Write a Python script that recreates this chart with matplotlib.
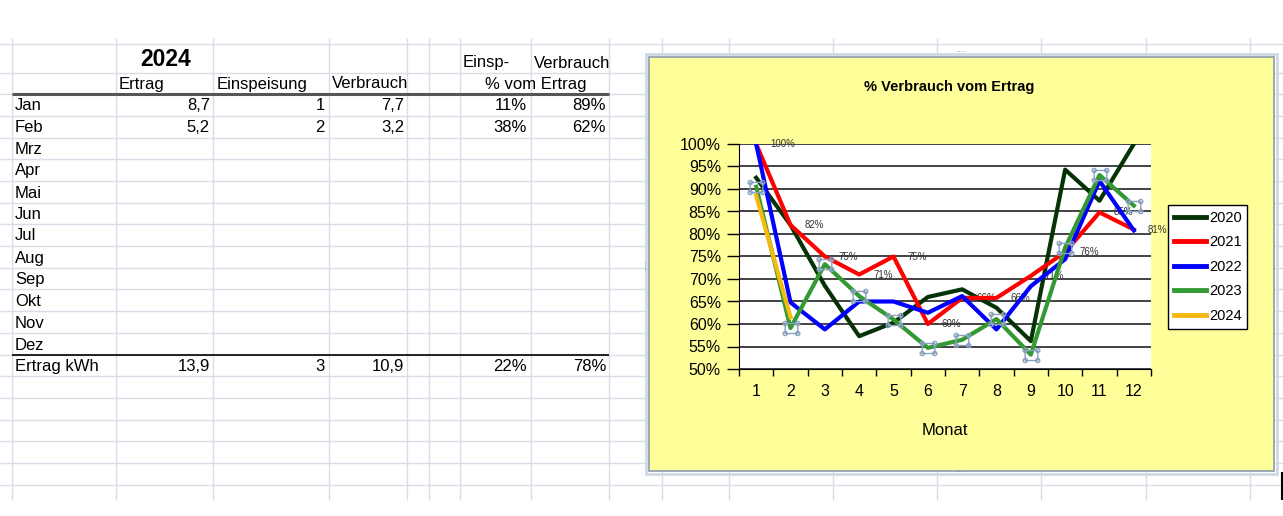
import numpy as np
import matplotlib.pyplot as plt
from matplotlib.path import Path
from matplotlib.patches import Rectangle
from matplotlib.ticker import FuncFormatter

plt.rcParams['font.family'] = ['Liberation Sans', 'DejaVu Sans']

# ---- Tabelle 2024 ----
jahr = '2024'
tab_monate = ['Jan', 'Feb', 'Mrz', 'Apr', 'Mai', 'Jun', 'Jul', 'Aug', 'Sep', 'Okt', 'Nov', 'Dez']
ertrag = [8.7, 5.2]
einspeisung = [1, 2]
verbrauch = [7.7, 3.2]

# ---- Diagramm: % Verbrauch vom Ertrag ----
monate = np.arange(1, 13)
v2020 = [0.925, 0.82, 0.685, 0.573, 0.603, 0.66, 0.677, 0.636, 0.562, 0.943, 0.874, 1.0]
v2021 = [1.0, 0.82, 0.75, 0.71, 0.75, 0.60, 0.658, 0.658, 0.707, 0.76, 0.848, 0.81]
v2022 = [1.0, 0.648, 0.588, 0.65, 0.65, 0.625, 0.662, 0.588, 0.684, 0.744, 0.918, 0.808]
v2023 = [0.905, 0.591, 0.733, 0.662, 0.61, 0.547, 0.565, 0.611, 0.532, 0.77, 0.931, 0.863]
v2024 = [v / e for v, e in zip(verbrauch, ertrag)]


def zahl(v):
    return ('%g' % round(v, 2)).replace('.', ',')


fig = plt.figure(figsize=(12.83, 5.16), dpi=100)
sheet = fig.add_axes([0, 0, 1, 1])
sheet.set_xlim(0, 1283)
sheet.set_ylim(516, 0)
sheet.axis('off')

# Excel-Gitternetz
gitter = '#d8dee8'
spalten = [12, 116, 213, 329, 407, 429, 460, 531, 609, 662, 729, 833, 937, 1041, 1146, 1250]
zeilen = [44, 73, 94, 116, 138, 159, 181, 203, 224, 246, 268, 289, 311, 333, 355, 376, 398, 420, 441, 463, 485]
sheet.vlines(spalten, 38, 500, color=gitter, lw=1)
sheet.hlines(zeilen, 0, 1283, color=gitter, lw=1)
sheet.hlines(94, 12, 609, color='#555555', lw=2.2)
sheet.hlines(355, 12, 609, color='#111111', lw=1.3)

fs = 12
sheet.text(166, 60, jahr, fontsize=16.5, fontweight='bold', ha='center', va='center')
sheet.text(463, 63, 'Einsp-', fontsize=fs, va='center')
sheet.text(534, 63, 'Verbrauch', fontsize=fs, va='center')
sheet.text(119, 84, 'Ertrag', fontsize=fs, va='center')
sheet.text(217, 84, 'Einspeisung', fontsize=fs, va='center')
sheet.text(332, 84, 'Verbrauch', fontsize=fs, va='center')
sheet.text(536, 84, '% vom Ertrag', fontsize=fs, ha='center', va='center')

for i, m in enumerate(tab_monate):
    yc = (zeilen[i + 2] + zeilen[i + 3]) / 2 + 1
    sheet.text(15, yc, m, fontsize=fs, va='center')
    if i < len(ertrag):
        sheet.text(210, yc, zahl(ertrag[i]), fontsize=fs, ha='right', va='center')
        sheet.text(325, yc, zahl(einspeisung[i]), fontsize=fs, ha='right', va='center')
        sheet.text(404, yc, zahl(verbrauch[i]), fontsize=fs, ha='right', va='center')
        sheet.text(527, yc, f'{einspeisung[i] / ertrag[i]:.0%}', fontsize=fs, ha='right', va='center')
        sheet.text(606, yc, f'{verbrauch[i] / ertrag[i]:.0%}', fontsize=fs, ha='right', va='center')

yc = (zeilen[14] + zeilen[15]) / 2 + 1
s_e, s_ein, s_v = sum(ertrag), sum(einspeisung), sum(verbrauch)
sheet.text(15, yc, 'Ertrag kWh', fontsize=fs, va='center')
sheet.text(210, yc, zahl(s_e), fontsize=fs, ha='right', va='center')
sheet.text(325, yc, zahl(s_ein), fontsize=fs, ha='right', va='center')
sheet.text(404, yc, zahl(s_v), fontsize=fs, ha='right', va='center')
sheet.text(527, yc, f'{s_ein / s_e:.0%}', fontsize=fs, ha='right', va='center')
sheet.text(606, yc, f'{s_v / s_e:.0%}', fontsize=fs, ha='right', va='center')

# Diagrammbereich (gelb) mit Rahmen
sheet.add_patch(Rectangle((645.5, 53.5), 631, 420, facecolor='none', edgecolor='#cfd8e3', lw=2, zorder=3))
sheet.add_patch(Rectangle((648.5, 56.5), 625, 414, facecolor='#ffff99', edgecolor='#8d9bad', lw=1.2, zorder=3))
for x, y, rot in [(961, 53, 0), (961, 473, 0), (647, 265, 90), (1275, 265, 90)]:
    sheet.text(x, y, '····', fontsize=5, color='#6f7f92', ha='center', va='center', rotation=rot, zorder=4)
sheet.vlines(1282, 472, 500, color='black', lw=1.5)

fig.text(949 / 1283, 1 - 87 / 516, '% Verbrauch vom Ertrag', fontsize=10.5, fontweight='bold',
         ha='center', va='center')

ax = fig.add_axes([739 / 1283, (516 - 369) / 516, 412 / 1283, 225 / 516])
ax.set_facecolor('white')

farben = {'2020': '#063306', '2021': '#ff0000', '2022': '#0000ff', '2023': '#339933', '2024': '#f5b90f'}
ax.plot(monate, v2020, color=farben['2020'], lw=3, label='2020', zorder=3)
ax.plot(monate, v2021, color=farben['2021'], lw=3, label='2021', zorder=3)
ax.plot(monate, v2022, color=farben['2022'], lw=3, label='2022', zorder=3)
ax.plot(monate, v2023, color=farben['2023'], lw=3, label='2023', zorder=3)
ax.plot(monate[:len(v2024)], v2024, color=farben['2024'], lw=3, label='2024', zorder=3)

# Auswahlmarken der Datenreihe 2023
quad = Path([(-1, -0.8), (1, -0.8), (1, 0.8), (-1, 0.8), (-1, -0.8)],
            [Path.MOVETO, Path.LINETO, Path.LINETO, Path.LINETO, Path.CLOSEPOLY])
kreise = [Path.circle((cx, cy), 0.32) for cx in (-1, 1) for cy in (-0.8, 0.8)]
griff = Path.make_compound_path(quad, *kreise)
ax.plot(monate, v2023, ls='none', marker=griff, ms=12, mfc='none', mec='#8aa2bd', mew=1, zorder=4)

# Datenbeschriftungen (2021)
for m, v in zip(monate, v2021):
    ax.annotate(f'{v:.0%}', (m, v), xytext=(10, 0), textcoords='offset points', fontsize=7,
                color='#333333', ha='left', va='center', zorder=2, annotation_clip=False)

ax.set_xlim(0.5, 12.5)
ax.set_ylim(0.5, 1.0)
ax.set_xticks(np.arange(0.5, 13, 1))
ax.set_xticklabels([])
ax.set_xticks(monate, minor=True)
ax.set_xticklabels([str(m) for m in monate], minor=True)
ax.tick_params(axis='x', which='major', length=5, width=1, direction='out')
ax.tick_params(axis='x', which='minor', length=0, pad=11, labelsize=11.5)
ax.set_yticks(np.arange(0.5, 1.001, 0.05))
ax.yaxis.set_major_formatter(FuncFormatter(lambda v, p: f'{v:.0%}'))
ax.tick_params(axis='y', length=9, width=1, pad=4, labelsize=11.5)
ax.yaxis.grid(True, color='#222222', lw=1.2)
ax.set_axisbelow(True)
ax.spines['top'].set_visible(False)
ax.spines['right'].set_visible(False)
ax.set_xlabel('Monat', fontsize=12, labelpad=17)

leg = ax.legend(loc='upper left', bbox_to_anchor=(1168 / 1283, 1 - 205 / 516),
                bbox_transform=fig.transFigure, fancybox=False, edgecolor='black', framealpha=1,
                fontsize=10.5, handlelength=2.2, handletextpad=0.2, labelspacing=0.72,
                borderpad=0.4, borderaxespad=0)
leg.get_frame().set_linewidth(1)
for h in leg.get_lines():
    h.set_linewidth(3.5)

fig.savefig('out.png', dpi=100, facecolor='white')
